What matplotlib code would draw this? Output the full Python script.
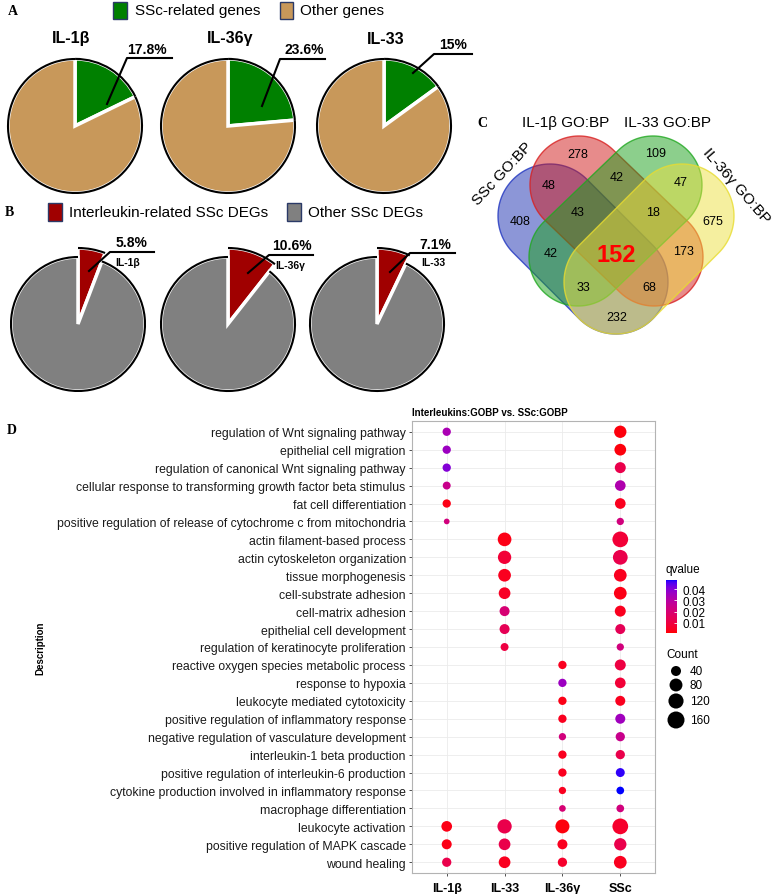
import matplotlib
matplotlib.use("Agg")
import matplotlib.pyplot as plt
import numpy as np
from matplotlib.patches import Rectangle, Polygon, Arc
from matplotlib.colors import ListedColormap, Normalize
from matplotlib.cm import ScalarMappable

plt.rcParams["font.family"] = ["Liberation Sans", "DejaVu Sans"]

W, H = 773, 895

# ---------------- data: panels A and B ----------------
pie_names = ["IL-1β", "IL-36γ", "IL-33"]
ssc_related_pct = [17.8, 23.6, 15.0]
ssc_related_text = ["17.8%", "23.6%", "15%"]
il_related_pct = [5.8, 10.6, 7.1]
il_related_text = ["5.8%", "10.6%", "7.1%"]

# ---------------- data: panel C (Venn counts) ----------------
venn_sets = ["SSc GO:BP", "IL-1β GO:BP", "IL-33 GO:BP", "IL-36γ GO:BP"]
venn_counts = [278, 109, 48, 42, 47, 408, 43, 18, 675, 42, 152, 173, 33, 68, 232]
venn_core = 152

# ---------------- data: panel D (dot plot) ----------------
terms = [
    "regulation of Wnt signaling pathway",
    "epithelial cell migration",
    "regulation of canonical Wnt signaling pathway",
    "cellular response to transforming growth factor beta stimulus",
    "fat cell differentiation",
    "positive regulation of release of cytochrome c from mitochondria",
    "actin filament-based process",
    "actin cytoskeleton organization",
    "tissue morphogenesis",
    "cell-substrate adhesion",
    "cell-matrix adhesion",
    "epithelial cell development",
    "regulation of keratinocyte proliferation",
    "reactive oxygen species metabolic process",
    "response to hypoxia",
    "leukocyte mediated cytotoxicity",
    "positive regulation of inflammatory response",
    "negative regulation of vasculature development",
    "interleukin-1 beta production",
    "positive regulation of interleukin-6 production",
    "cytokine production involved in inflammatory response",
    "macrophage differentiation",
    "leukocyte activation",
    "positive regulation of MAPK cascade",
    "wound healing",
]
groups = ["IL-1β", "IL-33", "IL-36γ", "SSc"]
N = None
il1b_count = [23, 23, 23, 20, 23, 6] + [N] * 16 + [48, 40, 32]
il1b_q = [.033, .036, .040, .025, .003, .022] + [N] * 16 + [.003, .003, .012]
il33_count = [N] * 6 + [93, 87, 77, 62, 40, 40, 20] + [N] * 9 + [104, 62, 62]
il33_q = [N] * 6 + [.003, .008, .004, .005, .020, .014, .010] + [N] * 9 + [.012, .012, .004]
il36_count = [N] * 13 + [23, 23, 23, 23, 15, 23, 23, 15, 11, 99, 40, 32]
il36_q = [N] * 13 + [.004, .036, .003, .004, .022, .004, .004, .004, .020, .002, .004, .006]
ssc_count = [71, 62, 52, 48, 48, 15, 132, 112, 77, 77, 52, 40, 15,
             52, 48, 40, 40, 32, 32, 29, 18, 18, 132, 71, 77]
ssc_q = [.002, .002, .012, .032, .004, .022, .008, .012, .004, .003, .004, .014, .022,
         .010, .008, .004, .035, .025, .012, .047, .048, .022, .006, .012, .004]
count_breaks = [40, 80, 120, 160]
q_breaks = [0.01, 0.02, 0.03, 0.04]
q_range = (0.001, 0.048)


def Y(y):
    return H - y


def dot_size(c):
    # diameter in px grows with sqrt(count); scatter wants pt^2
    d = 3 + 1.107 * np.sqrt(np.asarray(c, float))
    return (d * 0.72) ** 2


# red -> blue gradient interpolated in CIELAB (like ggplot)
M = np.array([[0.4124, 0.3576, 0.1805], [0.2126, 0.7152, 0.0722], [0.0193, 0.1192, 0.9505]])
WP = np.array([0.95047, 1.0, 1.08883])


def srgb_to_lab(rgb):
    rgb = np.asarray(rgb, float)
    lin = np.where(rgb <= 0.04045, rgb / 12.92, ((rgb + 0.055) / 1.055) ** 2.4)
    t = (M @ lin) / WP
    f = np.where(t > (6 / 29) ** 3, np.cbrt(t), t / (3 * (6 / 29) ** 2) + 4 / 29)
    return np.array([116 * f[1] - 16, 500 * (f[0] - f[1]), 200 * (f[1] - f[2])])


def lab_to_srgb(lab):
    L, a, b = lab
    fy = (L + 16) / 116
    f = np.array([fy + a / 500, fy, fy - b / 200])
    t = np.where(f > 6 / 29, f ** 3, 3 * (6 / 29) ** 2 * (f - 4 / 29))
    lin = np.clip(np.linalg.inv(M) @ (t * WP), 0, 1)
    return np.clip(np.where(lin <= 0.0031308, 12.92 * lin, 1.055 * lin ** (1 / 2.4) - 0.055), 0, 1)


lab_lo, lab_hi = srgb_to_lab([1, 0, 0]), srgb_to_lab([0, 0, 1])
cmap = ListedColormap([lab_to_srgb(lab_lo + s * (lab_hi - lab_lo)) for s in np.linspace(0, 1, 256)])
norm = Normalize(*q_range)

fig = plt.figure(figsize=(W / 100, H / 100), dpi=100)
ax0 = fig.add_axes([0, 0, 1, 1])

GREEN, BROWN, DRED, GREY = "#008000", "#C8985A", "#A00000", "#808080"
LEG_EDGE = "#2b3a67"

# ---------------- panel A ----------------
a_centers = [75, 228, 384]
a_titles_xy = [(71, 38), (230, 38), (386, 39)]
a_text_xy = [(147, 50), (304, 50), (453, 45)]
a_lines = [((127, 59), (172, 59)), ((280, 60), (325, 60)), ((434, 55), (472, 55))]
a_leaders = [(107, 105), (262, 107), (413, 74)]
for i, p in enumerate(ssc_related_pct):
    wedges, _ = ax0.pie([p, 100 - p], colors=[GREEN, BROWN], startangle=90, counterclock=False,
                        center=(a_centers[i], Y(127)), radius=67, explode=[0.14, 0],
                        wedgeprops=dict(edgecolor="white", linewidth=2.5))
    for w in wedges:
        ax0.add_patch(Arc(w.center, 2 * w.r, 2 * w.r, theta1=w.theta1, theta2=w.theta2,
                          color="black", lw=1.5, zorder=3))
    ax0.text(a_titles_xy[i][0], Y(a_titles_xy[i][1]), pie_names[i], fontsize=11.5,
             fontweight="bold", ha="center", va="center")
    ax0.text(a_text_xy[i][0], Y(a_text_xy[i][1]), ssc_related_text[i], fontsize=10,
             fontweight="bold", ha="center", va="center")
    (x1, y1), (x2, y2) = a_lines[i]
    ax0.plot([a_leaders[i][0], x1, x2], [Y(a_leaders[i][1]), Y(y1), Y(y2)], color="black", lw=1.5,
             zorder=4)

ax0.add_patch(Rectangle((113, Y(20)), 14, 17, facecolor=GREEN, edgecolor=LEG_EDGE, lw=1))
ax0.text(135, Y(11), "SSc-related genes", fontsize=11, va="center")
ax0.add_patch(Rectangle((280, Y(20)), 13, 17, facecolor=BROWN, edgecolor=LEG_EDGE, lw=1))
ax0.text(300, Y(11), "Other genes", fontsize=11, va="center")

# ---------------- panel B ----------------
b_centers = [78, 228, 377]
b_text_xy = [(132, 243), (292, 246), (435, 245)]
b_sub_xy = [(128, 263), (290, 266), (433, 263)]
b_lines = [((110, 253), (154, 253)), ((269, 256), (313, 256)), ((410, 254), (455, 254))]
b_leaders = [(89, 272), (248, 274), (390, 273)]
for i, p in enumerate(il_related_pct):
    wedges, _ = ax0.pie([p, 100 - p], colors=[DRED, GREY], startangle=90, counterclock=False,
                        center=(b_centers[i], Y(325)), radius=67,
                        wedgeprops=dict(edgecolor="white", linewidth=2.5))
    wedges[0].set_radius(76)
    for w in wedges:
        ax0.add_patch(Arc(w.center, 2 * w.r, 2 * w.r, theta1=w.theta1, theta2=w.theta2,
                          color="black", lw=1.5, zorder=3))
    ax0.text(b_text_xy[i][0], Y(b_text_xy[i][1]), il_related_text[i], fontsize=10,
             fontweight="bold", ha="center", va="center")
    ax0.text(b_sub_xy[i][0], Y(b_sub_xy[i][1]), pie_names[i], fontsize=7.5,
             fontweight="bold", ha="center", va="center")
    (x1, y1), (x2, y2) = b_lines[i]
    ax0.plot([b_leaders[i][0], x1, x2], [Y(b_leaders[i][1]), Y(y1), Y(y2)], color="black", lw=1.5,
             zorder=4)

ax0.add_patch(Rectangle((48, Y(222)), 14, 18, facecolor=DRED, edgecolor=LEG_EDGE, lw=1))
ax0.text(69, Y(213), "Interleukin-related SSc DEGs", fontsize=11, va="center")
ax0.add_patch(Rectangle((287, Y(222)), 14, 18, facecolor=GREY, edgecolor=LEG_EDGE, lw=1))
ax0.text(308, Y(213), "Other SSc DEGs", fontsize=11, va="center")

# ---------------- panel C: four-set Venn (SSc, IL-1b, IL-33, IL-36g) ----------------


def stadium(c1, c2, r, n=80):
    # rounded "capsule" outline between two cap centres (pixel coords from top)
    c1 = np.array([c1[0], Y(c1[1])], float)
    c2 = np.array([c2[0], Y(c2[1])], float)
    phi = np.arctan2(*(c2 - c1)[::-1])
    a2 = np.linspace(phi - np.pi / 2, phi + np.pi / 2, n)
    a1 = np.linspace(phi + np.pi / 2, phi + 3 * np.pi / 2, n)
    return np.vstack([c2 + r * np.c_[np.cos(a2), np.sin(a2)],
                      c1 + r * np.c_[np.cos(a1), np.sin(a1)]])


venn_shapes = [((550, 217), (616, 283), 52), ((579, 186), (654, 258), 49),
               ((653, 186), (578, 258), 49), ((682, 217), (616, 283), 52)]
venn_fill = ["#1a2fb0", "#d01818", "#1aa01a", "#ece040"]
venn_edge = ["#2035c0", "#d82020", "#20a820", "#e8dc30"]
for (c1, c2, r), fc, ec in zip(venn_shapes, venn_fill, venn_edge):
    pts = stadium(c1, c2, r)
    ax0.add_patch(Polygon(pts, closed=True, facecolor=fc, edgecolor="none", alpha=0.5, zorder=2))
    ax0.add_patch(Polygon(pts, closed=True, facecolor="none", edgecolor=ec, lw=1, alpha=0.8,
                          zorder=2))

venn_xy = [(578, 155), (656, 154), (549, 186), (617, 178), (681, 183), (520, 222), (578, 213),
           (653, 213), (713, 222), (551, 254), (616, 255), (683, 252), (583, 288), (649, 288),
           (617, 318)]
for n, (x, y) in zip(venn_counts, venn_xy):
    if n == venn_core:
        ax0.text(x, Y(y), str(n), fontsize=17, fontweight="bold", color="red",
                 ha="center", va="center", zorder=5)
    else:
        ax0.text(x, Y(y), str(n), fontsize=9, ha="center", va="center", zorder=5)

ax0.text(502, Y(174), venn_sets[0], fontsize=11, rotation=47, ha="center", va="center")
ax0.text(566, Y(123), venn_sets[1], fontsize=11, ha="center", va="center")
ax0.text(668, Y(123), venn_sets[2], fontsize=11, ha="center", va="center")
ax0.text(736, Y(186), venn_sets[3], fontsize=11, rotation=-49, ha="center", va="center")

# panel letters
for letter, (x, y) in zip("ABCD", [(8, 11), (5, 213), (477, 123), (7, 430)]):
    ax0.text(x, Y(y), letter, fontsize=10, fontweight="bold", family="Liberation Serif",
             ha="left", va="center")

# ---------------- panel D legends (drawn on the canvas) ----------------
ax0.text(666, Y(570), "qvalue", fontsize=8.5, va="center")
ax0.text(666, Y(655), "Count", fontsize=8.5, va="center")
leg_y = [672, 686, 702, 721]
ax0.scatter([676] * 4, [Y(v) for v in leg_y], s=dot_size(count_breaks), color="black",
            edgecolors="none", zorder=5)
for c, y in zip(count_breaks, leg_y):
    ax0.text(690, Y(y), str(c), fontsize=8.5, va="center")

ax0.set_xlim(0, W)
ax0.set_ylim(0, H)
ax0.set_aspect("auto")
ax0.axis("off")

# ---------------- panel D: dot plot ----------------
ax = fig.add_axes([412 / W, 1 - 874 / H, 243 / W, 452 / H])
nrow = len(terms)
series = [(il1b_count, il1b_q), (il33_count, il33_q), (il36_count, il36_q), (ssc_count, ssc_q)]
for gi, (cnt, qv) in enumerate(series):
    rows = [i for i in range(nrow) if cnt[i] is not None]
    ax.scatter([gi + 1] * len(rows), [nrow - i for i in rows],
               s=dot_size([cnt[i] for i in rows]), c=[qv[i] for i in rows],
               cmap=cmap, norm=norm, edgecolors="none", zorder=3)

ax.set_xlim(0.4, len(groups) + 0.6)
ax.set_ylim(0.4, nrow + 0.6)
ax.set_xticks(range(1, len(groups) + 1))
ax.set_xticklabels(groups, fontsize=9, fontweight="bold")
ax.set_yticks([nrow - i for i in range(nrow)])
ax.set_yticklabels(terms, fontsize=8.8, color="#1a1a1a")
ax.grid(True, color="#ebebeb", lw=0.6)
ax.set_axisbelow(True)
for sp in ax.spines.values():
    sp.set_color("#b3b3b3")
    sp.set_linewidth(0.8)
ax.tick_params(axis="both", length=2.5, width=0.6, color="#333333", pad=2)
ax.tick_params(axis="x", pad=4)
ax.set_ylabel("Description", fontsize=7, fontweight="bold")
ax.yaxis.set_label_coords(-1.51, 0.5)
ax.set_title("Interleukins:GOBP vs. SSc:GOBP", loc="left", fontsize=7, fontweight="bold", pad=4)

cax = fig.add_axes([666 / W, 1 - 634 / H, 11 / W, 53 / H])
cb = fig.colorbar(ScalarMappable(norm=norm, cmap=cmap), cax=cax, ticks=q_breaks)
cb.outline.set_visible(False)
cb.ax.set_yticklabels([f"{v:.2f}" for v in q_breaks], fontsize=8.5)
cb.ax.tick_params(length=2.5, width=0.6, color="white", direction="in", pad=4)

fig.savefig("out.png", dpi=100)
